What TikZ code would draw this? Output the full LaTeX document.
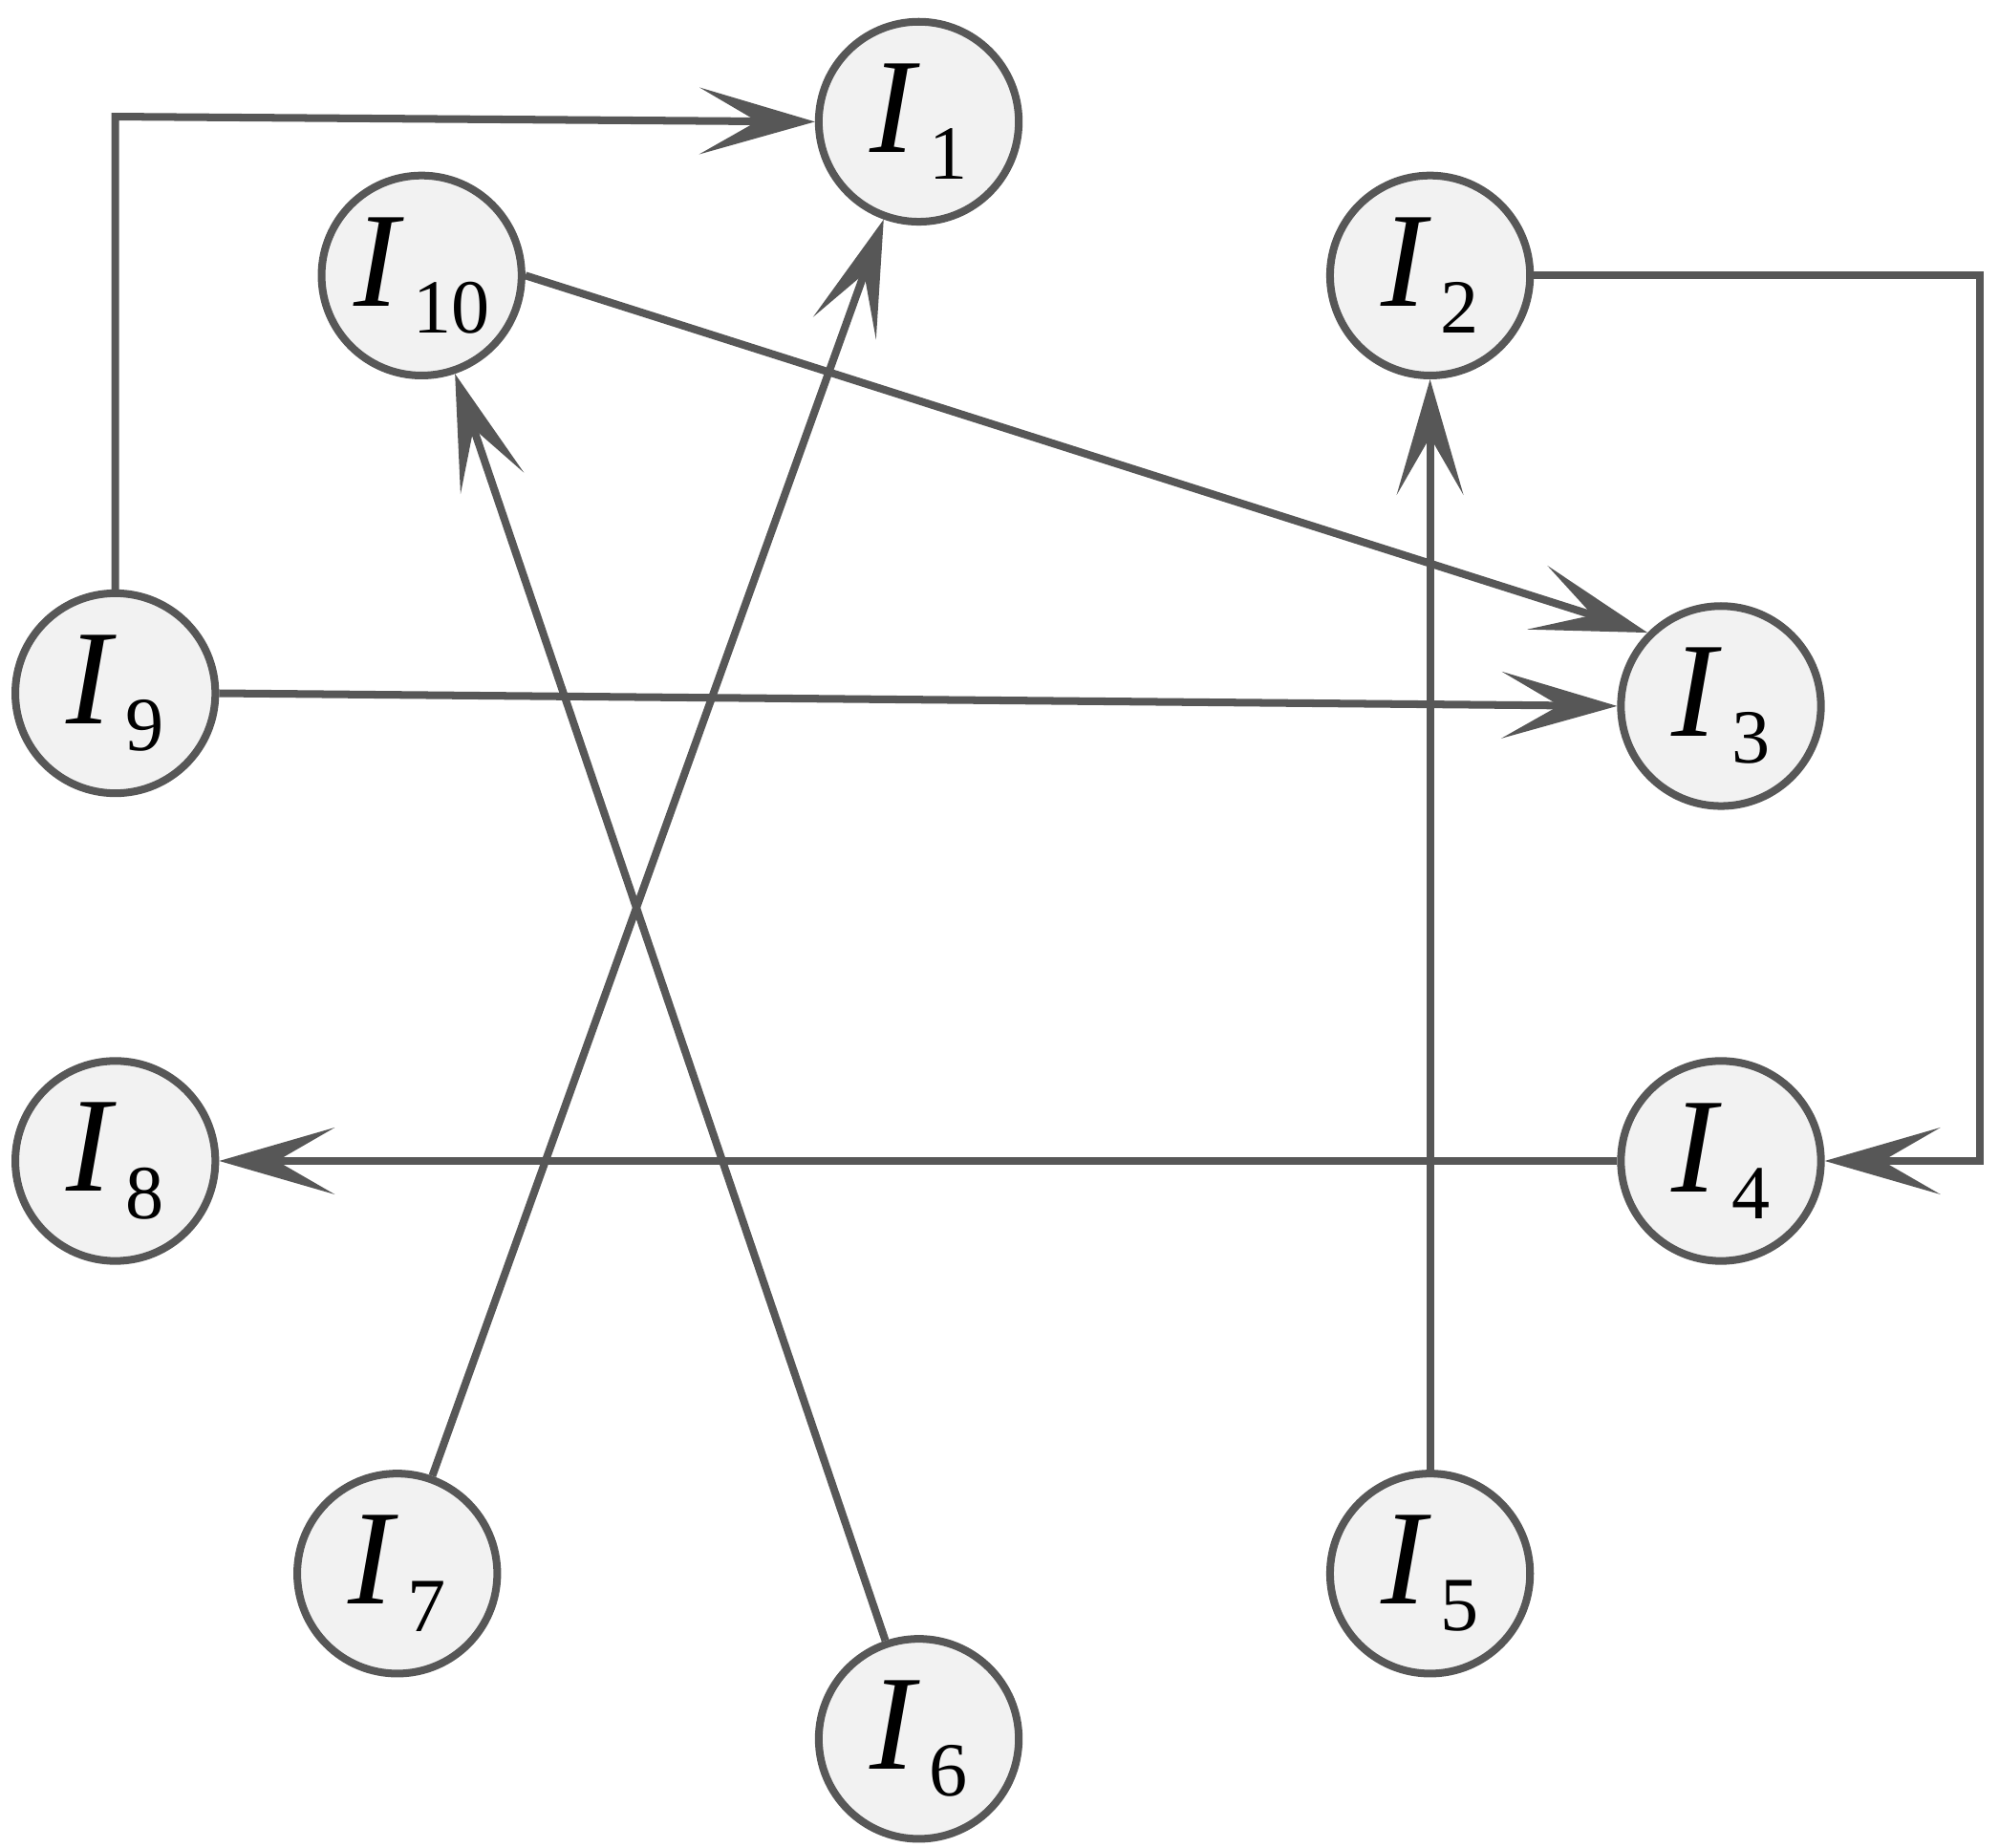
\documentclass[tikz,border=0pt]{standalone}
\usepackage{fontspec}
\setmainfont{Liberation Serif}
\usetikzlibrary{arrows.meta}
\definecolor{edgegray}{HTML}{575757}
\definecolor{nodefill}{HTML}{F2F2F2}
\newcommand{\ilab}[1]{{\fontsize{30}{30}\selectfont\textit{I}\kern2pt\raisebox{-6pt}{\fontsize{17}{17}\selectfont #1}}}
\begin{document}
\begin{tikzpicture}[x=0.01cm, y=-0.01cm]
\tikzset{
  VertexStyle/.style={shape=circle, draw=edgegray, fill=nodefill, line width=1.7pt,
                      minimum size=1.56cm, inner sep=0pt},
  post/.style={draw=edgegray, line width=1.7pt,
               -{Stealth[length=9mm, width=5.2mm, inset=4.5mm]}},
  plain/.style={draw=edgegray, line width=1.7pt}
}
\useasboundingbox (0,0) rectangle (1560,1442);
% vertices
\node[VertexStyle] (i1) at (717,95) {\ilab{1}};
\node[VertexStyle] (i10) at (329,215) {\ilab{10}};
\node[VertexStyle] (i2) at (1116,215) {\ilab{2}};
\node[VertexStyle] (i9) at (90,541) {\ilab{9}};
\node[VertexStyle] (i3) at (1343,551) {\ilab{3}};
\node[VertexStyle] (i8) at (90,906) {\ilab{8}};
\node[VertexStyle] (i4) at (1343,906) {\ilab{4}};
\node[VertexStyle] (i7) at (310,1228) {\ilab{7}};
\node[VertexStyle] (i5) at (1116,1228) {\ilab{5}};
\node[VertexStyle] (i6) at (717,1357) {\ilab{6}};
\coordinate (c1) at (90,91);
\coordinate (c2) at (1545,215);
\coordinate (c3) at (1545,906);
% edges
\draw[post] (i9.north) -- (c1) -- (i1.west);
\draw[post] (i7) -- (i1);
\draw[post] (i6) -- (i10);
\draw[post] (i10.east) -- (i3.north west);
\draw[post] (i9.east) -- (i3.west);
\draw[post] (i2.east) -- (c2) -- (c3) -- (i4.east);
\draw[post] (i4.west) -- (i8.east);
\draw[post] (i5.north) -- (i2.south);
\end{tikzpicture}
\end{document}
